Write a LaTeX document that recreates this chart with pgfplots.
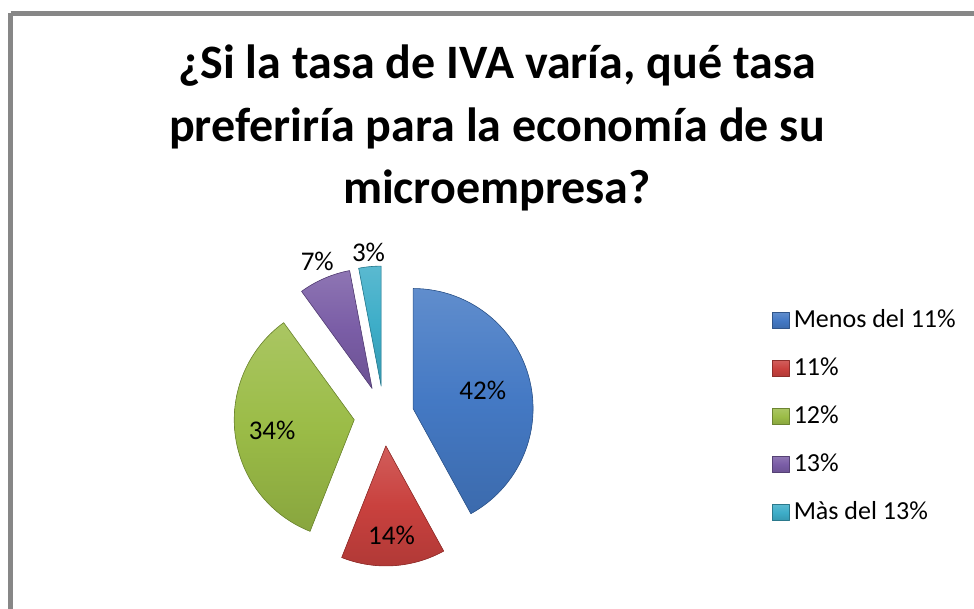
\documentclass[border=0pt]{standalone}
\usepackage{pgfplots}
\pgfplotsset{compat=1.18}
\usepackage{fontspec}
\setmainfont{Carlito}
\definecolor{sBlue}{HTML}{4479C4}
\definecolor{sRed}{HTML}{C9413E}
\definecolor{sGreen}{HTML}{9BBC47}
\definecolor{sPurple}{HTML}{7A5DA6}
\definecolor{sCyan}{HTML}{3DADC8}
\definecolor{frameGray}{HTML}{878787}
\def\cx{384}\def\cy{193}\def\rr{120}\def\ex{30}
\newcommand\lab{\fontsize{27}{32}\selectfont}
% #1 cumulative start (%), #2 value (%), #3 colour, #4 legend text, #5 label distance (fraction of radius)
\newcommand\slice[5]{%
 \pgfmathsetmacro\sa{3.6*#1}%
 \pgfmathsetmacro\sb{3.6*(#1+#2)}%
 \pgfmathsetmacro\sm{(\sa+\sb)/2}%
 \pgfmathsetmacro\ax{\cx+\ex*sin(\sm)}%
 \pgfmathsetmacro\ay{\cy+\ex*cos(\sm)}%
 \pgfmathsetmacro\lx{\ax+#5*\rr*sin(\sm)}%
 \pgfmathsetmacro\ly{\ay+#5*\rr*cos(\sm)}%
 \edef\doslice{\noexpand\addplot[fill=#3, top color=#3!85!white, bottom color=#3!88!black, middle color=#3, draw=#3!70!black, line width=0.6pt, line join=round, domain=\sa:\sb, samples=60] ({\ax+\rr*sin(x)},{\ay+\rr*cos(x)}) -- (axis cs:\ax,\ay) -- cycle;
 \noexpand\addlegendentry{#4}
 \noexpand\node[font=\noexpand\lab] at (axis cs:\lx,\ly) {#2\noexpand\%};}%
 \doslice
}
\begin{document}
\begin{tikzpicture}
\begin{axis}[
  at={(0,0)}, anchor=south west,
  scale only axis, x=1pt, y=1pt,
  xmin=0, xmax=974, ymin=0, ymax=609,
  hide axis, clip=false,
  legend style={at={(axis cs:772,302)}, anchor=north west, draw=none, fill=none,
    font=\fontsize{26}{31}\selectfont, row sep=24.7pt, inner sep=0pt},
  legend cell align=left,
  legend image code/.code={\filldraw[#1, line width=0.5pt] (0pt,-9.5pt) rectangle (17pt,6.5pt); \path (19pt,0pt);},
]
\slice{0}{42}{sBlue}{Menos del 11\%}{0.6}
\slice{42}{14}{sRed}{11\%}{0.75}
\slice{56}{34}{sGreen}{12\%}{0.69}
\slice{90}{7}{sPurple}{13\%}{1.15}
\slice{97}{3}{sCyan}{Màs del 13\%}{1.12}
\draw[frameGray, line width=5pt] (axis cs:10.5,595.5) -- (axis cs:1000,595.5) (axis cs:10.5,595.5) -- (axis cs:10.5,-20);
\node[align=center, font=\fontsize{48}{62.5}\selectfont\bfseries] at (axis cs:497,481)
  {¿Si la tasa de IVA varía, qué tasa\\ preferiría para la economía de su\\ microempresa?};
\end{axis}
\pgfresetboundingbox
\path[use as bounding box] (0,0) rectangle (974pt,609pt);
\end{tikzpicture}
\end{document}
